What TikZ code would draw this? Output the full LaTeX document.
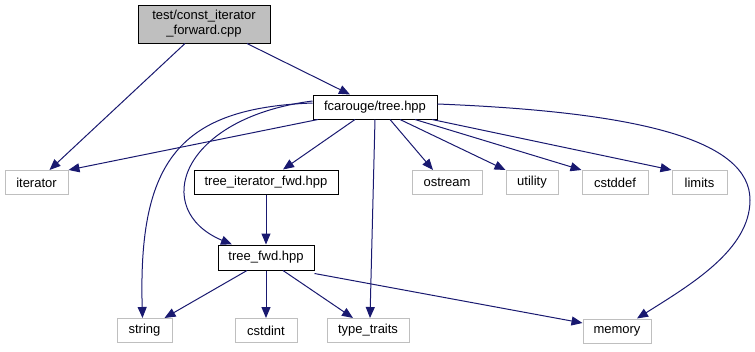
\documentclass[tikz,border=0pt]{standalone}
\usepackage{fontspec}
\setmainfont{Liberation Sans}
\usetikzlibrary{arrows.meta}
\definecolor{edgeblue}{HTML}{191970}
\definecolor{sysgray}{HTML}{BFBFBF}
\tikzset{
  x=1pt, y=-1pt,
  hdr/.style={draw=black, fill=white, line width=1pt, inner sep=0pt,
    minimum height=24pt, font=\fontsize{13}{15}\selectfont},
  syshdr/.style={hdr, draw=sysgray},
  rootfile/.style={hdr, fill=sysgray, align=center, minimum height=38pt},
  dep/.style={draw=edgeblue, line width=1pt,
    -{Triangle[length=11pt,width=9pt]}, fill=none},
}
\begin{document}
\begin{tikzpicture}
\useasboundingbox (0,0) rectangle (755,351);

% source file and headers
\node[rootfile, minimum width=132pt] (root) at (204,24) {test/const\_iterator\\\_forward.cpp};
\node[hdr, minimum width=124pt] (tree) at (375,107) {fcarouge/tree.hpp};
\node[syshdr, minimum width=63pt] (iterator) at (36.5,182.5) {iterator};
\node[hdr, minimum width=144pt] (tif) at (266,182) {tree\_iterator\_fwd.hpp};
\node[syshdr, minimum width=70pt] (ostream) at (447,182.5) {ostream};
\node[syshdr, minimum width=52pt] (utility) at (532,182.5) {utility};
\node[syshdr, minimum width=66pt] (cstddef) at (615,182.5) {cstddef};
\node[syshdr, minimum width=55pt] (limits) at (699.5,182.5) {limits};
\node[hdr, minimum width=96pt, minimum height=25pt] (tfwd) at (266,257.5) {tree\_fwd.hpp};
\node[syshdr, minimum width=55pt] (string) at (144.5,330.5) {string};
\node[syshdr, minimum width=62pt] (cstdint) at (266,330.5) {cstdint};
\node[syshdr, minimum width=82pt] (traits) at (368,330.5) {type\_traits};
\node[syshdr, minimum width=68pt] (memory) at (617,331) {memory};

% includes of the test file
\draw[dep] ([xshift=43]root.south) -- ([xshift=-25]tree.north);
\draw[dep] ([xshift=-19]root.south) -- ([xshift=13]iterator.north);

% includes of tree.hpp
\draw[dep] ([xshift=-57]tree.south) -- (iterator.north east);
\draw[dep] ([xshift=-20]tree.south) -- ([xshift=17]tif.north);
\draw[dep] ([yshift=4]tree.west) .. controls (180,108) and (138,160) .. ([xshift=-2]string.north);
\draw[dep] ([yshift=6]tree.west) .. controls (180,118) and (150,210) .. ([xshift=-34]tfwd.north);
\draw[dep] (tree.south) -- ([xshift=2]traits.north);
\draw[dep] ([xshift=15]tree.south) -- ([xshift=-14]ostream.north);
\draw[dep] ([xshift=25]tree.south) -- (utility.north west);
\draw[dep] ([xshift=40]tree.south) -- (cstddef.north west);
\draw[dep] ([xshift=57]tree.south) -- (limits.north west);
\draw[dep] ([yshift=3]tree.east) .. controls (640,112) and (750,140) .. (750,200)
  .. controls (750,250) and (690,285) .. ([xshift=20]memory.north);

% includes of the forward declarations
\draw[dep] (tif.south) -- (tfwd.north);
\draw[dep] ([xshift=-19]tfwd.south) -- ([xshift=20]string.north);
\draw[dep] (tfwd.south) -- (cstdint.north);
\draw[dep] ([xshift=17]tfwd.south) -- ([xshift=-15]traits.north);
\draw[dep] ([yshift=-3]tfwd.south east) -- ([yshift=8]memory.west);
\end{tikzpicture}
\end{document}
